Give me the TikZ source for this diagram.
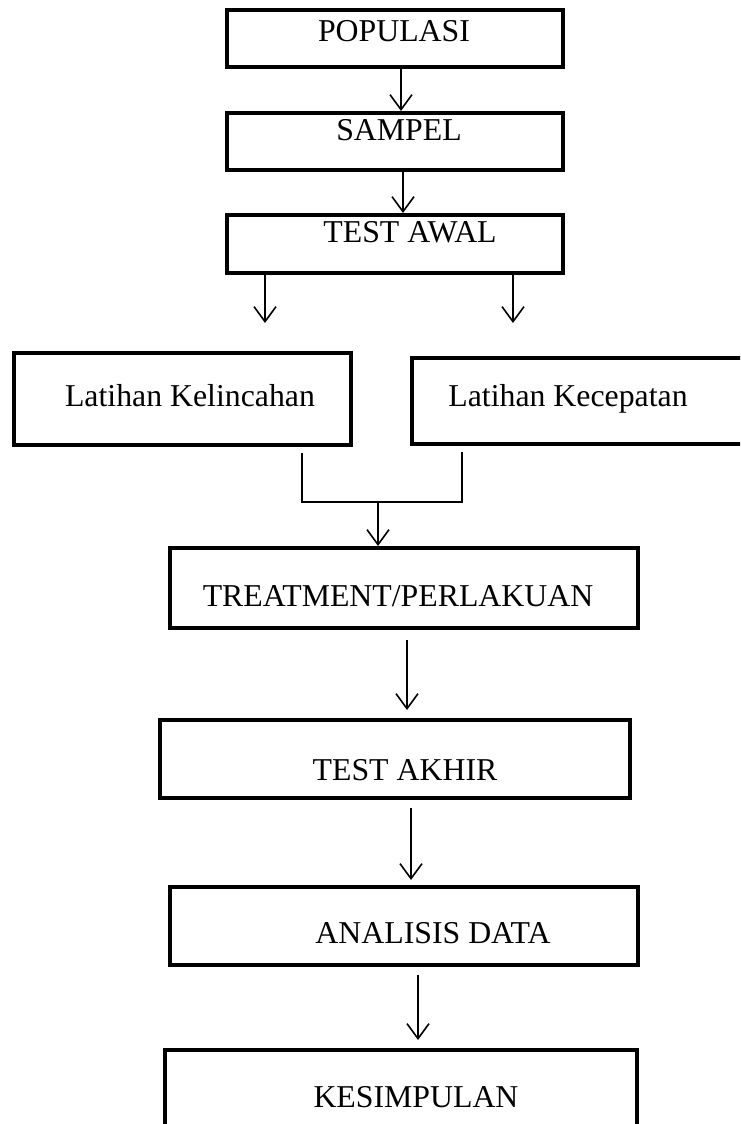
\documentclass[tikz,border=0pt]{standalone}
\usepackage{fontspec}
\setmainfont{Liberation Serif}
\usetikzlibrary{arrows.meta, calc}
\tikzset{
    box/.style={draw, line width=4pt, inner sep=0pt}, % kotak dengan garis tebal
    lbl/.style={anchor=base, inner sep=0pt, font=\fontsize{31.8}{38}\selectfont}, % teks di dalam kotak
    link/.style={line width=1.6pt}, % garis penghubung tanpa panah
}
\tikzstyle{arrow} = [line width=1.6pt, -{Straight Barb[length=15pt, width=22pt]}]

\begin{document}
\begin{tikzpicture}[x=1pt, y=-1pt]
    \useasboundingbox (0,0) rectangle (740,1124);
    \clip (0,0) rectangle (740,1124);

    % Kotak
    \node[box, minimum width=336pt, minimum height=57pt] (pop) at (395,38.5) {};
    \node[box, minimum width=336pt, minimum height=57pt] (sam) at (395,141.5) {};
    \node[box, minimum width=336pt, minimum height=58pt] (awal) at (395,244) {};
    \node[box, minimum width=337pt, minimum height=92pt] (kel) at (182.5,399) {};
    \node[box, minimum width=348pt, minimum height=86pt] (kec) at (586,401) {};
    \node[box, minimum width=468pt, minimum height=80pt] (treat) at (404,588) {};
    \node[box, minimum width=470pt, minimum height=78pt] (akhir) at (395,759) {};
    \node[box, minimum width=468pt, minimum height=78pt] (anal) at (404,926) {};
    \node[box, minimum width=472pt, minimum height=100pt] (kes) at (401,1100) {};

    % Teks
    \node[lbl] (popT) at (394,42) {POPULASI};
    \node[lbl] (samT) at (399,140) {SAMPEL};
    \node[lbl] (awalT) at (410,242) {TEST AWAL};
    \node[lbl] (kelT) at (190,406) {Latihan Kelincahan};
    \node[lbl] (kecT) at (568,406) {Latihan Kecepatan};
    \node[lbl] (treatT) at (398,606) {TREATMENT/PERLAKUAN};
    \node[lbl] (akhirT) at (405,780) {TEST AKHIR};
    \node[lbl] (analT) at (433,943) {ANALISIS DATA};
    \node[lbl] (kesT) at (416,1107) {KESIMPULAN};

    % Panah
    \draw[arrow] ([xshift=6pt]pop.south) -- ([xshift=6pt]sam.north);
    \draw[arrow] ([xshift=8pt]sam.south) -- ([xshift=8pt]awal.north);
    \draw[arrow, shorten >=28pt] ([xshift=-130pt]awal.south) -- ([xshift=-130pt]awal.south |- kel.north);
    \draw[arrow, shorten >=33pt] ([xshift=118pt]awal.south) -- ([xshift=118pt]awal.south |- kec.north);

    \coordinate (join) at (378,502);
    \draw[link] ([shift={(119.5,6)}]kel.south) |- (join) -| ([shift={(-124,6)}]kec.south);
    \draw[arrow] (join) -- (join |- treat.north);

    \draw[arrow, shorten <=10pt, shorten >=8pt] ([xshift=3pt]treat.south) -- ([xshift=3pt]treat.south |- akhir.north);
    \draw[arrow, shorten <=8pt, shorten >=5pt] ([xshift=16pt]akhir.south) -- ([xshift=16pt]akhir.south |- anal.north);
    \draw[arrow, shorten <=8pt, shorten >=8pt] ([xshift=14pt]anal.south) -- ([xshift=14pt]anal.south |- kes.north);
\end{tikzpicture}
\end{document}
